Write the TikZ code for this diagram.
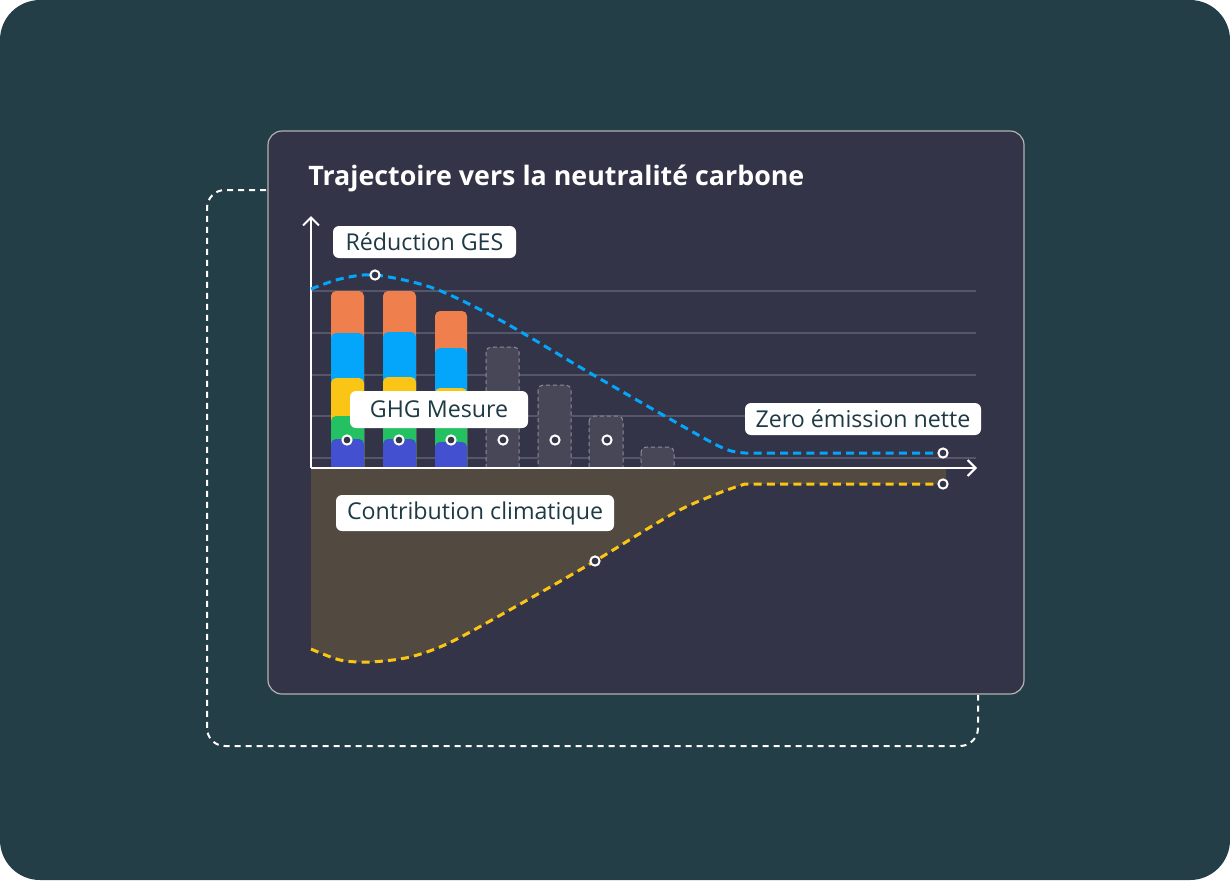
\documentclass[tikz,border=0pt]{standalone}
\usepackage{fontspec}
\setmainfont{Open Sans}
\usepackage{tikz}
\usetikzlibrary{calc,arrows.meta}
\definecolor{bgteal}{HTML}{233E46}
\definecolor{panel}{HTML}{333447}
\definecolor{gridc}{HTML}{55566A}
\definecolor{cOrange}{HTML}{F07F4E}
\definecolor{cBlue}{HTML}{04A6FC}
\definecolor{cYellow}{HTML}{FAC515}
\definecolor{cGreen}{HTML}{24C163}
\definecolor{cIndigo}{HTML}{4350CF}
\definecolor{ghost}{HTML}{474758}
\definecolor{ghostline}{HTML}{8C8C9C}
\definecolor{soil}{HTML}{524A41}
\definecolor{lbltext}{HTML}{1E3A44}

\begin{document}
\begin{tikzpicture}[x=0.5pt,y=-0.5pt,>={Straight Barb[length=4pt,width=8pt]},
  lbl/.style={fill=white,rounded corners=3pt,text=lbltext,font=\fontsize{11.6}{13}\selectfont,minimum height=16pt,inner sep=0pt},
  ring/.style={circle,draw=white,line width=1pt,fill=panel,inner sep=0pt,minimum size=4.6pt},
  ghostbar/.style={fill=ghost,draw=ghostline,line width=0.5pt,dash pattern=on 2pt off 1.5pt,rounded corners=2.5pt},
  seg/.style={rounded corners=2.5pt},
  trend/.style={line width=1.5pt,dash pattern=on 4pt off 2.6pt}]
\useasboundingbox (0,0) rectangle (1230,880);
% background and frames
\fill[bgteal,rounded corners=20pt] (0,0) rectangle (1230,880);
\draw[white,line width=1pt,dash pattern=on 3pt off 2.5pt,rounded corners=9pt] (266,190) -- (207,190) -- (207,746) -- (978,746) -- (978,695);
\draw[fill=panel,draw=gray!60,line width=0.6pt,rounded corners=7pt] (268,131) rectangle (1024,694);
\node[anchor=base west,inner sep=0pt,text=white,font=\fontsize{13.4}{16}\selectfont\bfseries] (title) at (308,185) {Trajectoire vers la neutralité carbone};
% grid
\draw[gridc,line width=0.6pt] (311,291) -- (976,291) (311,333) -- (976,333) (311,375) -- (976,375) (311,416) -- (976,416) (311,458) -- (976,458);
% stacked bars
\fill[cOrange,seg] (331,291) rectangle (364,474);
\fill[cBlue,seg] (331,333) rectangle (364,474);
\fill[cYellow,seg] (331,378) rectangle (364,474);
\fill[cGreen,seg] (331,416) rectangle (364,474);
\fill[cIndigo,seg] (331,439) rectangle (364,474);
\fill[cOrange,seg] (383,291) rectangle (416,474);
\fill[cBlue,seg] (383,332) rectangle (416,474);
\fill[cYellow,seg] (383,377) rectangle (416,474);
\fill[cGreen,seg] (383,416) rectangle (416,474);
\fill[cIndigo,seg] (383,439) rectangle (416,474);
\fill[cOrange,seg] (435,311) rectangle (467,474);
\fill[cBlue,seg] (435,348) rectangle (467,474);
\fill[cYellow,seg] (435,388) rectangle (467,474);
\fill[cGreen,seg] (435,414) rectangle (467,474);
\fill[cIndigo,seg] (435,442) rectangle (467,474);
\draw[ghostbar] (486,347) rectangle (519,476);
\draw[ghostbar] (538,385) rectangle (571,476);
\draw[ghostbar] (589,416) rectangle (623,476);
\draw[ghostbar] (641,447) rectangle (674,476);
% area under the axis
\fill[soil] (311,468) -- plot [smooth] coordinates {(311,649) (340,660) (370,662) (410,657) (451,642) (522,603) (595,561) (674,513) (719,493) (745,484)} -- (946,484) -- (946,468) -- cycle;
% axes
\coordinate (origin) at (311,468);
\coordinate (ytip) at (311,216);
\coordinate (xtip) at (977,468);
\draw[white,line width=1pt,->] (origin) -- (ytip);
\draw[white,line width=1pt,->] (origin) -- (xtip);
% trends
\draw[cBlue,trend] plot [smooth] coordinates {(311,289) (340,279) (375,275) (433,288) (500,320) (590,373) (700,436) (728,450) (745,453)} -- (943,453);
\draw[cYellow,trend] plot [smooth] coordinates {(311,649) (340,660) (370,662) (410,657) (451,642) (522,603) (595,561) (674,513) (719,493) (745,484)} -- (943,484);
% markers
\node[ring] (peak) at (375,275) {};
\node[ring] (zeroend) at (943,453) {};
\node[ring] (climid) at (595,561) {};
\node[ring] (climend) at (943,484) {};
\node[ring] (m1) at (347,440) {};
\node[ring] (m2) at (399,440) {};
\node[ring] (m3) at (451,440) {};
\node[ring] (m4) at (503,440) {};
\node[ring] (m5) at (555,440) {};
\node[ring] (m6) at (607,440) {};
% labels
\node[lbl,minimum width=91.5pt] (reduction) at (424.5,242) {Réduction GES};
\node[lbl,minimum width=89pt,minimum height=18.5pt] (mesure) at (439,409.5) {GHG Mesure};
\node[lbl,minimum width=118pt] (zero) at (863,419) {Zero émission nette};
\node[lbl,minimum width=139pt,minimum height=18pt] (contrib) at (475,513) {Contribution climatique};
\end{tikzpicture}
\end{document}
